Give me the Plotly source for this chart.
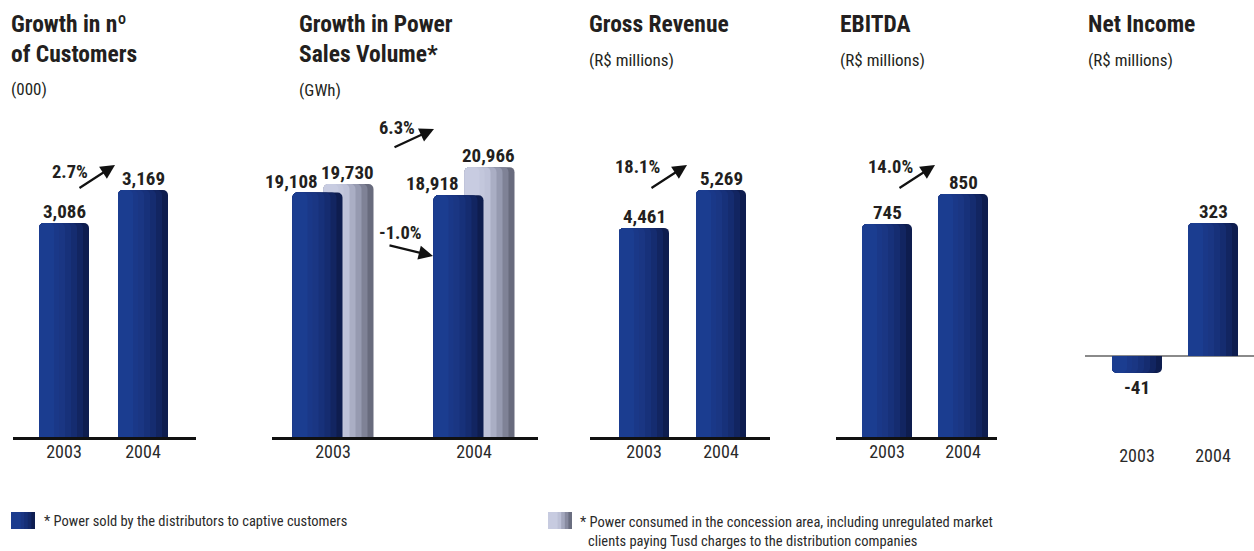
import plotly.graph_objects as go

# ---- data -------------------------------------------------------------
years = ["2003", "2004"]
customers_k = [3086, 3169]            # number of customers (000)
captive_gwh = [19108, 18918]          # power sold to captive customers
concession_gwh = [19730, 20966]       # power consumed in the concession area
gross_revenue = [4461, 5269]          # R$ millions
ebitda = [745, 850]                   # R$ millions
net_income = [-41, 323]               # R$ millions

customers_growth = "2.7%"
concession_growth = "6.3%"
captive_growth = "-1.0%"
revenue_growth = "18.1%"
ebitda_growth = "14.0%"

# ---- styling ----------------------------------------------------------
W, H = 1254, 551
FONT = "Liberation Sans Narrow, Arial Narrow, Roboto Condensed, sans-serif"
INK = "#231f20"
BAR_PX = 50

BLUE_STOPS = [(0.0, (28, 64, 150)), (0.45, (26, 54, 132)), (0.75, (20, 42, 108)), (1.0, (12, 25, 70))]
GREY_STOPS = [(0.0, (204, 208, 228)), (0.45, (192, 196, 218)), (0.7, (150, 154, 176)), (1.0, (92, 95, 112))]


def grad(stops, f):
    for (f0, c0), (f1, c1) in zip(stops, stops[1:]):
        if f <= f1:
            t = (f - f0) / (f1 - f0)
            return "rgb(%d,%d,%d)" % tuple(round(a + (b - a) * t) for a, b in zip(c0, c1))
    return "rgb(%d,%d,%d)" % stops[-1][1]


def py(p):
    return 1 - p / H


def px(p):
    return p / W


# panel geometry in pixels
panels = [
    dict(x0=13, x1=196, c=(64, 143), base=437, top=140, v0=2548, k=0.3976, standoff=-3),
    dict(x0=272, x1=538, c=(333, 474), base=437, top=140, v0=1270, k=0.0137, standoff=-3),
    dict(x0=590, x1=770, c=(644, 721), base=437, top=140, v0=0, k=0.04687, standoff=-3),
    dict(x0=836, x1=997, c=(887, 963), base=437, top=140, v0=0, k=0.2859, standoff=-3),
    dict(x0=1085, x1=1254, c=(1137, 1213), base=440, top=140, v0=-(440 - 356) / 0.4118, k=0.4118, standoff=3),
]

fig = go.Figure()
layout = dict(
    width=W, height=H, margin=dict(l=0, r=0, t=0, b=0),
    paper_bgcolor="white", plot_bgcolor="rgba(0,0,0,0)",
    barmode="overlay", showlegend=False,
    font=dict(family=FONT, color=INK),
)

for i, p in enumerate(panels, start=1):
    u = p["c"][1] - p["c"][0]
    p["u"] = u
    sfx = "" if i == 1 else str(i)
    last = i == 5
    layout["xaxis" + sfx] = dict(
        domain=[px(p["x0"]), px(p["x1"])],
        range=[(p["x0"] - p["c"][0]) / u, (p["x1"] - p["c"][0]) / u],
        tickvals=[0, 1], ticktext=years,
        tickfont=dict(size=18, color="#2a2a2a", family=FONT),
        ticks="", ticklabelstandoff=p["standoff"],
        showgrid=False, zeroline=False, fixedrange=True,
        showline=not last, linecolor="#111111", linewidth=2.5,
        anchor="y" + sfx,
    )
    layout["yaxis" + sfx] = dict(
        domain=[py(p["base"]), py(p["top"])],
        range=[p["v0"], p["v0"] + (p["base"] - p["top"]) / p["k"]],
        visible=last, showticklabels=False, ticks="", showgrid=False,
        showline=False, zeroline=last, zerolinecolor="#8a8a8a", zerolinewidth=1.5,
        fixedrange=True, anchor="x" + sfx,
    )


def add_bar(i, values, left_px, stops):
    p = panels[i - 1]
    u = p["u"]
    sfx = "" if i == 1 else str(i)
    fracs = [1, 0.88, 0.76, 0.64, 0.52, 0.4, 0.3]
    for j, fr in enumerate(fracs):
        nxt = fracs[j + 1] if j + 1 < len(fracs) else 0
        fig.add_bar(
            x=[0, 1], y=values,
            offset=left_px / u, width=BAR_PX * fr / u,
            marker=dict(color=grad(stops, (fr + nxt) / 2), cornerradius=5, line=dict(width=0)),
            xaxis="x" + sfx, yaxis="y" + sfx, hoverinfo="skip",
        )


annotations = []


def value_labels(i, values, dx_px=0):
    p = panels[i - 1]
    sfx = "" if i == 1 else str(i)
    for xi, v in enumerate(values):
        annotations.append(dict(
            x=xi + dx_px / p["u"], y=v, xref="x" + sfx, yref="y" + sfx,
            text=f"{v:,}", showarrow=False,
            yanchor="bottom" if v >= 0 else "top", yshift=-2 if v >= 0 else -1,
            font=dict(size=19, color=INK, family=FONT, weight="bold"),
        ))


add_bar(1, customers_k, -25, BLUE_STOPS)
add_bar(2, concession_gwh, -9.5, GREY_STOPS)
add_bar(2, captive_gwh, -40.5, BLUE_STOPS)
add_bar(3, gross_revenue, -25, BLUE_STOPS)
add_bar(4, ebitda, -25, BLUE_STOPS)
add_bar(5, net_income, -25, BLUE_STOPS)

value_labels(1, customers_k)
value_labels(2, captive_gwh, -42)
value_labels(2, concession_gwh, 14)
value_labels(3, gross_revenue)
value_labels(4, ebitda)
value_labels(5, net_income)


def text(x, y, s, size, bold=False, color=INK):
    annotations.append(dict(
        x=px(x), y=py(y), xref="paper", yref="paper", text=s, showarrow=False,
        xanchor="left", yanchor="middle",
        font=dict(size=size, color=color, family=FONT, weight="bold" if bold else "normal"),
    ))


def growth(tx, ty, s, tail, head):
    annotations.append(dict(
        x=px(tx), y=py(ty), xref="paper", yref="paper", text=s, showarrow=False,
        xanchor="center", yanchor="middle",
        font=dict(size=18.5, color=INK, family=FONT, weight="bold"),
    ))
    annotations.append(dict(
        x=px(head[0]), y=py(head[1]), xref="paper", yref="paper", text="",
        showarrow=True, ax=tail[0] - head[0], ay=tail[1] - head[1],
        axref="pixel", ayref="pixel",
        arrowhead=2, arrowsize=1.3, arrowwidth=2.2, arrowcolor="#111111", standoff=0,
    ))


# titles
text(9, 24, "Growth in nº", 23.5, True)
text(9, 54, "of Customers", 23.5, True)
text(9, 89, "(000)", 17)
text(297, 24, "Growth in Power", 23.5, True)
text(297, 54, "Sales Volume*", 23.5, True)
text(297, 90, "(GWh)", 17)
text(587, 24, "Gross Revenue", 23.5, True)
text(587, 60, "(R$ millions)", 17)
text(838, 24, "EBITDA", 23.5, True)
text(838, 60, "(R$ millions)", 17)
text(1086, 24, "Net Income", 23.5, True)
text(1086, 60, "(R$ millions)", 17)

# growth arrows
growth(70, 172, customers_growth, (78, 189), (115, 165))
growth(397, 128, concession_growth, (393, 148), (434, 129))
growth(400, 233, captive_growth, (388, 245), (433, 256))
growth(637, 167, revenue_growth, (650, 189), (687, 165))
growth(890, 167, ebitda_growth, (898, 189), (935, 165))

# legend
shapes = []


def swatch(x0, y0, w, h, stops):
    fracs = [1, 0.85, 0.7, 0.55, 0.4]
    for j, fr in enumerate(fracs):
        nxt = fracs[j + 1] if j + 1 < len(fracs) else 0
        shapes.append(dict(
            type="rect", xref="paper", yref="paper",
            x0=px(x0), x1=px(x0 + w * fr), y0=py(y0 + h), y1=py(y0),
            fillcolor=grad(stops, (fr + nxt) / 2), line=dict(width=0), layer="above",
        ))


swatch(11, 512, 24, 17, BLUE_STOPS)
swatch(548, 512, 24, 17, GREY_STOPS)
text(42, 521, "* Power sold by the distributors to captive customers", 14.5, color="#2a2a2a")
text(578, 522, "* Power consumed in the concession area, including unregulated market", 14.5, color="#2a2a2a")
text(586, 541, "clients paying Tusd charges to the distribution companies", 14.5, color="#2a2a2a")

layout["annotations"] = annotations
layout["shapes"] = shapes
fig.update_layout(**layout)
fig.write_html("out.html")
